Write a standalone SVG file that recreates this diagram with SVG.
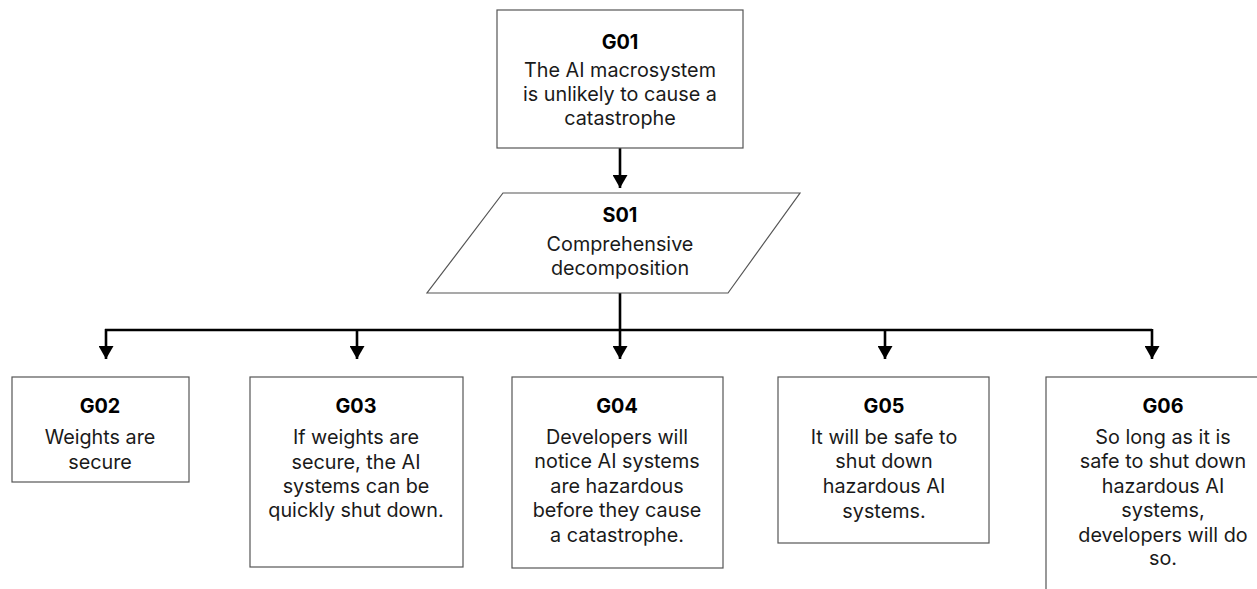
<svg xmlns="http://www.w3.org/2000/svg" width="1257" height="589" viewBox="0 0 1257 589">
<defs>
<style>
.box{fill:#fff;stroke:#555;stroke-width:1.2}
.t{font-family:Inter,"Liberation Sans",sans-serif;font-size:19.8px;fill:#1a1a1a;text-anchor:middle}
.b{font-weight:bold;fill:#000}
.c{fill:none;stroke:#000;stroke-width:2.6}
</style>
<marker id="ah" markerUnits="userSpaceOnUse" markerWidth="14" markerHeight="15" refX="13" refY="7.5" orient="auto" viewBox="0 0 14 15">
<path d="M0,0 L13,7.5 L0,15 z" fill="#000"/>
</marker>
</defs>
<rect width="1257" height="589" fill="#fff"/>
<g id="connectors">
<line class="c" x1="620" y1="148" x2="620" y2="188" marker-end="url(#ah)"/>
<polyline class="c" points="620,293 620,330"/>
<line class="c" x1="105" y1="330" x2="1152" y2="330"/>
<line class="c" x1="106" y1="329" x2="106" y2="359" marker-end="url(#ah)"/>
<line class="c" x1="357" y1="329" x2="357" y2="359" marker-end="url(#ah)"/>
<line class="c" x1="620" y1="329" x2="620" y2="359" marker-end="url(#ah)"/>
<line class="c" x1="885" y1="329" x2="885" y2="359" marker-end="url(#ah)"/>
<line class="c" x1="1152" y1="329" x2="1152" y2="359" marker-end="url(#ah)"/>
</g>
<g id="G01">
<rect class="box" x="497" y="10" width="246" height="138"/>
<text class="t b" x="620" y="49">G01</text>
<text class="t" x="620" y="77">The AI macrosystem</text>
<text class="t" x="620" y="101">is unlikely to cause a</text>
<text class="t" x="620" y="125">catastrophe</text>
</g>
<g id="S01">
<polygon class="box" points="503,193 800,193 728,293 427,293"/>
<text class="t b" x="620" y="222">S01</text>
<text class="t" x="620" y="251">Comprehensive</text>
<text class="t" x="620" y="275">decomposition</text>
</g>
<g id="G02">
<rect class="box" x="12" y="377" width="177" height="105"/>
<text class="t b" x="100" y="413">G02</text>
<text class="t" x="100" y="444">Weights are</text>
<text class="t" x="100" y="469">secure</text>
</g>
<g id="G03">
<rect class="box" x="250" y="377" width="213" height="190"/>
<text class="t b" x="356" y="413">G03</text>
<text class="t" x="356" y="444">If weights are</text>
<text class="t" x="356" y="469">secure, the AI</text>
<text class="t" x="356" y="493">systems can be</text>
<text class="t" x="356" y="517">quickly shut down.</text>
</g>
<g id="G04">
<rect class="box" x="512" y="377" width="211" height="191"/>
<text class="t b" x="617" y="413">G04</text>
<text class="t" x="617" y="444">Developers will</text>
<text class="t" x="617" y="468">notice AI systems</text>
<text class="t" x="617" y="493">are hazardous</text>
<text class="t" x="617" y="517">before they cause</text>
<text class="t" x="617" y="542">a catastrophe.</text>
</g>
<g id="G05">
<rect class="box" x="778" y="377" width="211" height="166"/>
<text class="t b" x="884" y="413">G05</text>
<text class="t" x="884" y="444">It will be safe to</text>
<text class="t" x="884" y="468">shut down</text>
<text class="t" x="884" y="493">hazardous AI</text>
<text class="t" x="884" y="518">systems.</text>
</g>
<g id="G06">
<rect class="box" x="1046" y="377" width="240" height="240"/>
<text class="t b" x="1163" y="413">G06</text>
<text class="t" x="1163" y="444">So long as it is</text>
<text class="t" x="1163" y="468">safe to shut down</text>
<text class="t" x="1163" y="493">hazardous AI</text>
<text class="t" x="1163" y="517">systems,</text>
<text class="t" x="1163" y="542">developers will do</text>
<text class="t" x="1163" y="565">so.</text>
</g>
</svg>
